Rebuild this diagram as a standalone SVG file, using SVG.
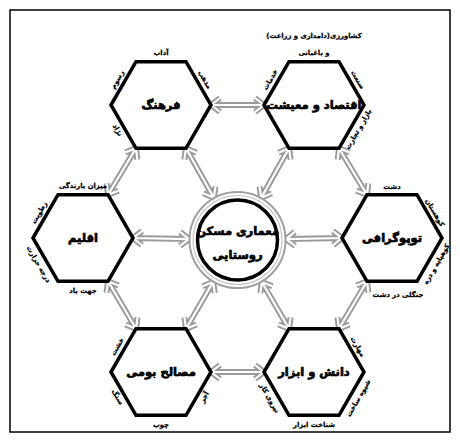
<svg xmlns="http://www.w3.org/2000/svg" width="460" height="442" viewBox="0 0 460 442">
<style>
.hex{fill:#fff;stroke:#000;stroke-width:3.5;stroke-linejoin:miter}
.lbl{font-family:"DejaVu Sans",sans-serif;font-weight:bold;font-size:11.5px;fill:#000;stroke:#000;stroke-width:0.7;text-anchor:middle}
.sm{font-family:"DejaVu Sans",sans-serif;font-weight:bold;font-size:6.8px;fill:#000;stroke:#000;stroke-width:0.25;text-anchor:middle;dominant-baseline:central}
.cg{fill:none;stroke:#9a9a9a;stroke-width:6;stroke-linejoin:round;stroke-linecap:butt}
.cw{fill:none;stroke:#fff;stroke-width:2.2;stroke-linejoin:round;stroke-linecap:butt}
</style>
<rect x="0" y="0" width="460" height="442" fill="#fff"/>
<rect x="10" y="10" width="440" height="422" fill="none" stroke="#000" stroke-width="1.5"/>

<g id="connectors">
  <g transform="translate(211,105) rotate(0)"><path class="cg" d="M0,0H53M9,-7L0,0L9,7M44,-7L53,0L44,7"/><path class="cw" d="M0,0H53M9,-7L0,0L9,7M44,-7L53,0L44,7"/></g>
  <g transform="translate(339,148.3) rotate(58.9)"><path class="cg" d="M0,0H54.2M9,-7L0,0L9,7M45.2,-7L54.2,0L45.2,7"/><path class="cw" d="M0,0H54.2M9,-7L0,0L9,7M45.2,-7L54.2,0L45.2,7"/></g>
  <g transform="translate(367,281.3) rotate(120.6)"><path class="cg" d="M0,0H55.1M9,-7L0,0L9,7M46.1,-7L55.1,0L46.1,7"/><path class="cw" d="M0,0H55.1M9,-7L0,0L9,7M46.1,-7L55.1,0L46.1,7"/></g>
  <g transform="translate(211,372) rotate(0)"><path class="cg" d="M0,0H53M9,-7L0,0L9,7M44,-7L53,0L44,7"/><path class="cw" d="M0,0H53M9,-7L0,0L9,7M44,-7L53,0L44,7"/></g>
  <g transform="translate(108,281.3) rotate(59.4)"><path class="cg" d="M0,0H55.1M9,-7L0,0L9,7M46.1,-7L55.1,0L46.1,7"/><path class="cw" d="M0,0H55.1M9,-7L0,0L9,7M46.1,-7L55.1,0L46.1,7"/></g>
  <g transform="translate(108,194.7) rotate(-58.9)"><path class="cg" d="M0,0H54.2M9,-7L0,0L9,7M45.2,-7L54.2,0L45.2,7"/><path class="cw" d="M0,0H54.2M9,-7L0,0L9,7M45.2,-7L54.2,0L45.2,7"/></g>
  <g transform="translate(186,148.3) rotate(60.68)"><path class="cg" d="M0,0H56.7M9,-7L0,0L9,7M47.7,-7L56.7,0L47.7,7"/><path class="cw" d="M0,0H56.7M9,-7L0,0L9,7M47.7,-7L56.7,0L47.7,7"/></g>
  <g transform="translate(289,148.3) rotate(119.32)"><path class="cg" d="M0,0H56.7M9,-7L0,0L9,7M47.7,-7L56.7,0L47.7,7"/><path class="cw" d="M0,0H56.7M9,-7L0,0L9,7M47.7,-7L56.7,0L47.7,7"/></g>
  <g transform="translate(342,238) rotate(178.9)"><path class="cg" d="M0,0H56M9,-7L0,0L9,7M47,-7L56,0L47,7"/><path class="cw" d="M0,0H56M9,-7L0,0L9,7M47,-7L56,0L47,7"/></g>
  <g transform="translate(133,238) rotate(1.1)"><path class="cg" d="M0,0H56M9,-7L0,0L9,7M47,-7L56,0L47,7"/><path class="cw" d="M0,0H56M9,-7L0,0L9,7M47,-7L56,0L47,7"/></g>
  <g transform="translate(186,328.7) rotate(-59.86)"><path class="cg" d="M0,0H54.1M9,-7L0,0L9,7M45.1,-7L54.1,0L45.1,7"/><path class="cw" d="M0,0H54.1M9,-7L0,0L9,7M45.1,-7L54.1,0L45.1,7"/></g>
  <g transform="translate(289,328.7) rotate(-120.14)"><path class="cg" d="M0,0H54.1M9,-7L0,0L9,7M45.1,-7L54.1,0L45.1,7"/><path class="cw" d="M0,0H54.1M9,-7L0,0L9,7M45.1,-7L54.1,0L45.1,7"/></g>
</g>

<g id="center">
  <circle cx="237.5" cy="240" r="48" fill="#fff" stroke="#a0a0a0" stroke-width="2"/>
  <circle cx="237.5" cy="240" r="44.5" fill="none" stroke="#c8c8c8" stroke-width="1.2"/>
  <circle cx="237.5" cy="240" r="40" fill="none" stroke="#000" stroke-width="3.5"/>
  <text class="lbl" x="237.5" y="235">معماری مسکن</text>
  <text class="lbl" x="237.5" y="259">روستایی</text>
</g>

<g id="farhang">
  <polygon class="hex" points="111,105 136,61.7 186,61.7 211,105 186,148.3 136,148.3"/>
  <text class="lbl" x="161" y="109">فرهنگ</text>
  <text class="sm" x="161" y="53">آداب</text>
  <text class="sm" transform="translate(204.6,79.8) rotate(60)" x="0" y="0">مذهب</text>
  <text class="sm" transform="translate(117.4,79.8) rotate(-60)" x="0" y="0">رسوم</text>
  <text class="sm" transform="translate(117.4,130.2) rotate(60)" x="0" y="0">نژاد</text>
</g>

<g id="eghtesad">
  <polygon class="hex" points="264,105 289,61.7 339,61.7 364,105 339,148.3 289,148.3"/>
  <text class="lbl" x="314" y="109">اقتصاد و معیشت</text>
  <text class="sm" x="314" y="36">کشاورزی(دامداری و زراعت)</text>
  <text class="sm" x="314" y="53">و باغبانی</text>
  <text class="sm" transform="translate(270.4,79.8) rotate(-60)" x="0" y="0">خدمات</text>
  <text class="sm" transform="translate(357.6,79.8) rotate(60)" x="0" y="0">صنعت</text>
  <text class="sm" transform="translate(358.6,129.2) rotate(-60)" x="0" y="0">بازار و تجارت</text>
</g>

<g id="topografi">
  <polygon class="hex" points="342,238 367,194.7 417,194.7 442,238 417,281.3 367,281.3"/>
  <text class="lbl" x="392" y="242">توپوگرافی</text>
  <text class="sm" x="392" y="187">دشت</text>
  <text class="sm" transform="translate(434.6,212.8) rotate(60)" x="0" y="0">کوهستان</text>
  <text class="sm" transform="translate(436.6,264.2) rotate(-60)" x="0" y="0">کوهپایه و دره</text>
  <text class="sm" x="398" y="295">جنگلی در دشت</text>
</g>

<g id="eghlim">
  <polygon class="hex" points="33,238 58,194.7 108,194.7 133,238 108,281.3 58,281.3"/>
  <text class="lbl" x="83" y="242">اقلیم</text>
  <text class="sm" x="83" y="186">میزان بارندگی</text>
  <text class="sm" transform="translate(39.4,212.8) rotate(-60)" x="0" y="0">رطوبت</text>
  <text class="sm" transform="translate(38.4,264.2) rotate(60)" x="0" y="0">درجه حرارت</text>
  <text class="sm" x="83" y="291">جهت باد</text>
</g>

<g id="masaleh">
  <polygon class="hex" points="111,372 136,328.7 186,328.7 211,372 186,415.3 136,415.3"/>
  <text class="lbl" x="161" y="376">مصالح بومی</text>
  <text class="sm" transform="translate(117.4,346.8) rotate(-60)" x="0" y="0">خشت</text>
  <text class="sm" transform="translate(117.4,397.2) rotate(60)" x="0" y="0">سنگ</text>
  <text class="sm" transform="translate(204.6,397.2) rotate(-60)" x="0" y="0">آجر</text>
  <text class="sm" x="161" y="425">چوب</text>
</g>

<g id="danesh">
  <polygon class="hex" points="264,372 289,328.7 339,328.7 364,372 339,415.3 289,415.3"/>
  <text class="lbl" x="314" y="376">دانش و ابزار</text>
  <text class="sm" transform="translate(357.6,346.8) rotate(60)" x="0" y="0">مهارت</text>
  <text class="sm" transform="translate(358.6,398.2) rotate(-60)" x="0" y="0">شیوه ساخت</text>
  <text class="sm" transform="translate(269.4,398.2) rotate(60)" x="0" y="0">نیروی کار</text>
  <text class="sm" x="314" y="425">شناخت ابزار</text>
</g>
</svg>
